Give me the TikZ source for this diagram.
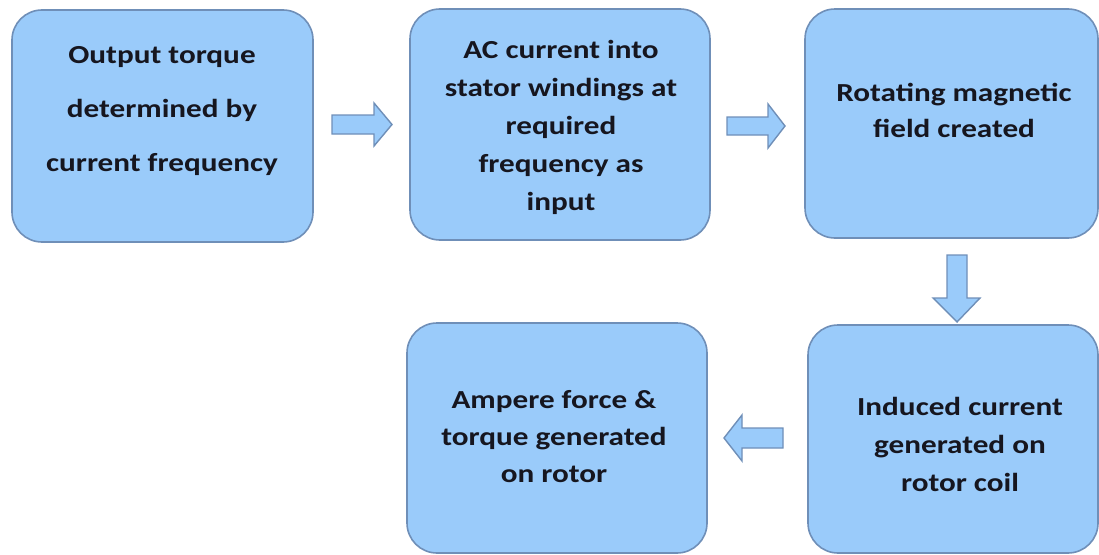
\documentclass[tikz,border=0pt]{standalone}
\usepackage{fontspec}
\setmainfont{Carlito}[FakeStretch=1.2]
\definecolor{boxfill}{HTML}{9ACBFA}
\definecolor{boxline}{HTML}{6F8FB8}
\definecolor{txt}{HTML}{16161F}
\begin{document}
\begin{tikzpicture}[x=1pt,y=-1pt,
  flowbox/.style={draw=boxline,fill=boxfill,line width=1.6pt,rounded corners=30pt},
  boxtext/.style={inner sep=0pt,align=center,text=txt,font=\bfseries\fontsize{26}{38}\selectfont},
  blockarrow/.style={draw=boxline,fill=boxfill,line width=1.4pt,line join=miter}]
\useasboundingbox (0,0) rectangle (1099,554);
% boxes
\draw[flowbox] (12,10) rectangle (313,242);
\draw[flowbox] (410,9) rectangle (710,240);
\draw[flowbox] (805,9) rectangle (1098,238);
\draw[flowbox] (407,323) rectangle (707,553);
\draw[flowbox] (808,325) rectangle (1098,553);
% texts
\node[boxtext,font=\bfseries\fontsize{26}{54}\selectfont] (t1) at (162,111) {Output torque\\determined by\\current frequency};
\node[boxtext] (t2) at (561,127) {AC current into\\stator windings at\\required\\frequency as\\input};
\node[boxtext,font=\bfseries\fontsize{26}{36}\selectfont] (t3) at (954,110) {Rotating magnetic\\field created};
\node[boxtext,font=\bfseries\fontsize{26}{37}\selectfont] (t4) at (554,437) {Ampere force \&\\torque generated\\on rotor};
\node[boxtext] (t5) at (960,444) {Induced current\\generated on\\rotor coil};
% block arrows
\draw[blockarrow] (332,115) -- (374,115) -- (374,103) -- (392,124.5) -- (374,146) -- (374,134) -- (332,134) -- cycle;
\draw[blockarrow] (727,117) -- (768,117) -- (768,104) -- (785,126) -- (768,148) -- (768,135) -- (727,135) -- cycle;
\draw[blockarrow] (947,255) -- (947,298) -- (933,298) -- (957,322) -- (980,298) -- (967,298) -- (967,255) -- cycle;
\draw[blockarrow] (783,428) -- (742,428) -- (742,415) -- (724,438) -- (742,461) -- (742,448) -- (783,448) -- cycle;
\end{tikzpicture}
\end{document}
